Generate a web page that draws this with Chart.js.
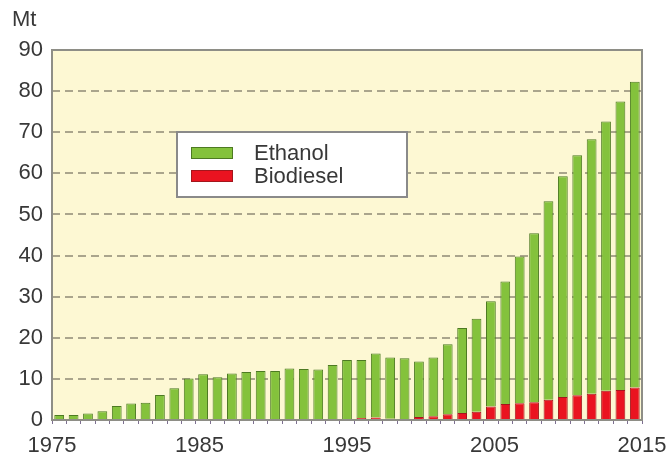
<!DOCTYPE html>
<html>
<head>
<meta charset="utf-8">
<script src="https://cdn.jsdelivr.net/npm/chart.js@4.4.1/dist/chart.umd.min.js"></script>
<style>
  html, body { margin: 0; padding: 0; background: #fff; }
  #wrap { width: 671px; height: 455px; }
</style>
</head>
<body>
<div id="wrap"><canvas id="fuel-chart" width="671" height="455"></canvas></div>
<script>
// Years shown as bars
const years = [
  1975, 1976, 1977, 1978, 1979, 1980, 1981, 1982, 1983, 1984,
  1985, 1986, 1987, 1988, 1989, 1990, 1991, 1992, 1993, 1994,
  1995, 1996, 1997, 1998, 1999, 2000, 2001, 2002, 2003, 2004,
  2005, 2006, 2007, 2008, 2009, 2010, 2011, 2012, 2013, 2014, 2015
];

// Production in Mt
const ethanol = [
  1.2, 1.2, 1.6, 2.1, 3.4, 4.0, 4.2, 6.1, 7.7, 10.1,
  11.1, 10.4, 11.3, 11.7, 11.9, 11.9, 12.5, 12.4, 12.3, 13.4,
  14.4, 14.1, 15.6, 14.9, 14.8, 13.5, 14.3, 17.0, 20.7, 22.6,
  25.6, 29.8, 35.7, 41.1, 48.3, 53.7, 58.4, 61.9, 65.5, 70.2, 74.4
];
const biodiesel = [
  0, 0, 0, 0, 0, 0, 0, 0, 0, 0,
  0, 0, 0, 0, 0, 0, 0, 0, 0, 0,
  0.2, 0.5, 0.6, 0.3, 0.2, 0.7, 0.9, 1.4, 1.7, 2.0,
  3.3, 3.9, 4.1, 4.3, 4.9, 5.6, 6.0, 6.4, 7.1, 7.3, 7.9
];

// Axis labels
const yearTicks = ['1975', '1985', '1995', '2005', '2015'];
const unitLabel = 'Mt';

const FONT = '"Liberation Sans", Arial, sans-serif';
const TEXT = '#383838';

// Yellow plot background + frame
const plotFrame = {
  id: 'plotFrame',
  beforeDraw(chart) {
    const { ctx, chartArea: a } = chart;
    ctx.save();
    ctx.fillStyle = '#fdf8d3';
    ctx.fillRect(a.left, a.top, a.right - a.left, a.bottom - a.top);
    ctx.restore();
  },
  afterDatasetsDraw(chart) {
    const { ctx, chartArea: a } = chart;
    ctx.save();
    ctx.strokeStyle = '#8e8e86';
    ctx.lineWidth = 2;
    ctx.strokeRect(a.left, a.top, a.right - a.left, a.bottom - a.top);
    ctx.restore();
  }
};

// Unit label and boxed legend
const extras = {
  id: 'extras',
  afterDraw(chart) {
    const ctx = chart.ctx;
    ctx.save();
    ctx.font = '22px ' + FONT;
    ctx.fillStyle = TEXT;
    ctx.textBaseline = 'middle';
    ctx.textAlign = 'left';
    ctx.fillText(unitLabel, 12, 20);

    // legend box
    ctx.fillStyle = '#ffffff';
    ctx.fillRect(177, 132, 230, 65);
    ctx.strokeStyle = '#8a8a8a';
    ctx.lineWidth = 2;
    ctx.strokeRect(177, 132, 230, 65);

    const items = chart.data.datasets.slice().reverse();
    items.forEach((ds, i) => {
      const y = 153 + i * 23;
      ctx.fillStyle = ds.backgroundColor;
      ctx.fillRect(191, y - 6, 42, 12);
      ctx.strokeStyle = ds.borderColor;
      ctx.lineWidth = 1;
      ctx.strokeRect(191.5, y - 5.5, 41, 11);
      ctx.fillStyle = TEXT;
      ctx.font = '22px ' + FONT;
      ctx.fillText(ds.label, 254, y + 1);
    });
    ctx.restore();
  }
};

const ctx = document.getElementById('fuel-chart').getContext('2d');
const fuelChart = new Chart(ctx, {
  type: 'bar',
  data: {
    labels: years,
    datasets: [{
      label: 'Biodiesel',
      data: biodiesel,
      backgroundColor: '#ea1320',
      borderColor: '#a3161c',
      borderWidth: 1,
      barPercentage: 0.68,
      categoryPercentage: 1.0
    }, {
      label: 'Ethanol',
      data: ethanol,
      backgroundColor: '#84c23c',
      borderColor: '#4d7a22',
      borderWidth: 1,
      barPercentage: 0.68,
      categoryPercentage: 1.0
    }]
  },
  options: {
    responsive: false,
    animation: false,
    layout: {
      padding: { top: 50, right: 29, left: 0, bottom: 0 }
    },
    scales: {
      x: {
        stacked: true,
        weight: 0,
        grid: {
          display: true,
          drawOnChartArea: false,
          drawTicks: true,
          tickLength: 4,
          color: '#7d7090',
          lineWidth: 1
        },
        border: { display: false },
        ticks: { display: false },
        afterFit(s) { s.height = 4; }
      },
      xYear: {
        type: 'linear',
        position: 'bottom',
        weight: 1,
        offset: false,
        min: 1975,
        max: 2015,
        grid: { display: false },
        border: { display: false },
        ticks: {
          stepSize: 10,
          padding: 1,
          color: TEXT,
          font: { family: FONT, size: 22 },
          maxRotation: 0,
          callback: function(value) {
            return yearTicks.includes(String(value)) ? String(value) : '';
          }
        },
        afterFit(s) { s.height = 31; }
      },
      y: {
        stacked: true,
        min: 0,
        max: 90,
        grid: {
          drawTicks: false,
          lineWidth: 2,
          color: function(c) {
            const v = c.tick.value;
            return (v === 0 || v === 90) ? 'rgba(0,0,0,0)' : '#aaa58c';
          }
        },
        border: { display: false, dash: [8, 5] },
        ticks: {
          stepSize: 10,
          padding: 9,
          color: TEXT,
          font: { family: FONT, size: 22 }
        },
        afterFit(s) { s.width = 52; }
      }
    },
    plugins: {
      legend: { display: false },
      title: { display: false },
      tooltip: { enabled: false }
    }
  },
  plugins: [plotFrame, extras]
});
</script>
</body>
</html>
